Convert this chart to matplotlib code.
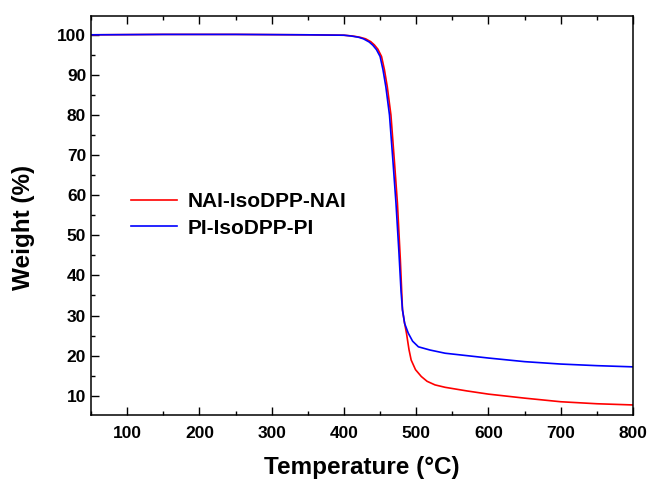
import numpy as np
import matplotlib.pyplot as plt
from matplotlib.ticker import MultipleLocator

plt.rcParams['font.family'] = ['Liberation Sans', 'DejaVu Sans']
plt.rcParams['font.weight'] = 'bold'

# %% data
t_nai = [50, 150, 250, 350, 400, 412, 422, 430, 437, 442, 447, 452, 456, 460,
         465, 470, 474, 478, 481, 483.5, 486.5, 490, 493, 499, 507, 515, 526,
         540, 570, 600, 650, 700, 750, 800]
w_nai = [100.0, 100.1, 100.1, 100.0, 99.9, 99.7, 99.4, 99.0, 98.3, 97.5, 96.4,
         94.6, 91.3, 87.0, 80.0, 68.0, 58.0, 44.0, 31.4, 28.5, 25.6, 21.5, 18.9,
         16.5, 14.8, 13.6, 12.7, 12.1, 11.2, 10.4, 9.4, 8.5, 8.0, 7.7]

t_pi = [50, 150, 250, 350, 400, 410, 420, 427, 435, 440, 445, 450, 454, 458,
        463, 468, 472, 476, 479, 481, 484, 489, 495, 503, 519, 540, 570, 600,
        650, 700, 750, 800]
w_pi = [100.0, 100.1, 100.1, 100.0, 99.9, 99.7, 99.4, 99.0, 98.2, 97.4, 96.3,
        94.6, 91.3, 87.0, 80.0, 68.0, 58.0, 46.0, 36.0, 31.4, 28.0, 25.6, 23.6,
        22.2, 21.4, 20.6, 20.0, 19.4, 18.5, 17.9, 17.5, 17.2]

# %% plot
fig = plt.figure(figsize=(6.51, 4.84), dpi=100)
ax = fig.add_axes([0.1398, 0.1426, 0.8326, 0.8244])

ax.plot(t_nai, w_nai, color='#ff0000', lw=1.2, label='NAI-IsoDPP-NAI')
ax.plot(t_pi, w_pi, color='#0000ff', lw=1.2, label='PI-IsoDPP-PI')

ax.set_xlim(50, 800)
ax.set_ylim(5.2, 104.7)
ax.xaxis.set_major_locator(MultipleLocator(100))
ax.xaxis.set_minor_locator(MultipleLocator(50))
ax.yaxis.set_major_locator(MultipleLocator(10))
ax.yaxis.set_minor_locator(MultipleLocator(5))
ax.tick_params(which='both', direction='in', top=True, right=False,
               labelsize=12.5, width=1.0)
ax.tick_params(which='major', length=5.5)
ax.tick_params(which='minor', length=3)
ax.tick_params(axis='x', which='major', pad=8)
for lab in ax.get_xticklabels() + ax.get_yticklabels():
    lab.set_fontweight('bold')
for s in ax.spines.values():
    s.set_linewidth(1.1)

ax.set_xlabel('Temperature (°C)', fontsize=17.5, fontweight='bold', labelpad=11)
ax.set_ylabel('Weight (%)', fontsize=17.5, fontweight='bold')
ax.yaxis.set_label_coords(-0.103, 0.47)

leg = ax.legend(loc='upper left', bbox_to_anchor=(0.04, 0.605), frameon=False,
                prop={'size': 15, 'weight': 'bold'}, handlelength=2.2,
                handletextpad=0.5, labelspacing=0.35)

fig.savefig('out.png', dpi=100)
